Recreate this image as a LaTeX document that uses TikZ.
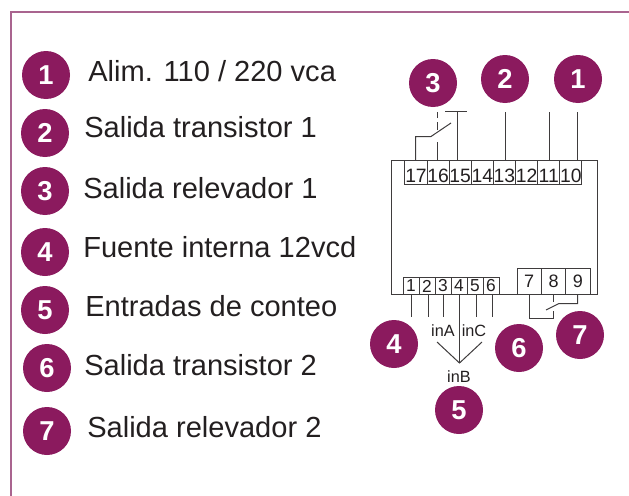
\documentclass[tikz,border=0pt]{standalone}
\usepackage{fontspec}
\setmainfont{Liberation Sans}
\definecolor{plum}{HTML}{8B1A5E}
\definecolor{frameplum}{HTML}{A9648F}
\definecolor{ink}{HTML}{231F20}
\definecolor{linegray}{HTML}{3F3C3D}
\newcommand{\lowerby}[2]{\raisebox{-#1}{#2}}
\tikzset{
  badge/.style={circle,fill=plum,draw=none,minimum size=36pt,inner sep=0pt,text=white,font=\fontsize{20.5}{20.5}\selectfont\bfseries},
  lab/.style={anchor=base west,inner sep=0pt,text=ink,font=\fontsize{21.8}{24}\selectfont},
  cell/.style={draw=linegray,line width=0.75pt,inner sep=0pt,text=ink},
  topcell/.style={cell,minimum width=16.6pt,minimum height=18pt,text height=10pt,text depth=0pt,font=\fontsize{14.5}{15}\selectfont},
  lowcell/.style={cell,minimum width=12pt,minimum height=12.75pt,font=\fontsize{13}{14}\selectfont},
  bigcell/.style={cell,minimum width=18.25pt,minimum height=19.5pt,font=\fontsize{13.5}{14}\selectfont},
  wire/.style={draw=linegray,line width=0.75pt},
  small/.style={inner sep=0pt,text=ink,font=\fontsize{12.2}{13}\selectfont}
}
\begin{document}
\begin{tikzpicture}[x=0.75pt,y=-0.75pt]
\useasboundingbox (0,0) rectangle (629,496);
% frame
\draw[frameplum,line width=0.9pt] (629,12) -- (11,12) -- (11,496);
% legend
\node[badge] (l1) at (46,75) {1};
\node[badge] (l2) at (45,133) {2};
\node[badge] (l3) at (45,191) {3};
\node[badge] (l4) at (45,252) {4};
\node[badge] (l5) at (45,310) {5};
\node[badge] (l6) at (47,368) {6};
\node[badge] (l7) at (47,431) {7};
\node[lab] (t1) at (88,81) {Alim. 110 / 220 vca};
\node[lab] (t2) at (84,137) {Salida transistor 1};
\node[lab] (t3) at (83,198) {Salida relevador 1};
\node[lab] (t4) at (83,257) {Fuente interna 12vcd};
\node[lab] (t5) at (85,316) {Entradas de conteo};
\node[lab] (t6) at (84,375) {Salida transistor 2};
\node[lab] (t7) at (87,437) {Salida relevador 2};
% device body
\coordinate (bodyTL) at (391.5,160.5);
\coordinate (bodyTR) at (597.5,160.5);
\coordinate (bodyBL) at (391.5,294.5);
\coordinate (bodyBR) at (597.5,294.5);
\draw[wire] (bodyTL) -- (bodyTR) -- (bodyBR) -- (bodyBL) -- cycle;
% top terminals
\foreach \n [count=\i from 0] in {17,16,15,14,13,12,11,10}{
  \node[topcell] (c\n) at ({416+22.12*\i},172.5) {\lowerby{2.2pt}{\n}};
}
% low terminals
\foreach \n [count=\i from 0] in {1,2,3,4,5,6}{
  \node[lowcell] (d\n) at ({411+16*\i},286) {\lowerby{1pt}{\n}};
}
% big terminals
\foreach \n/\lbl [count=\i from 0] in {a/7,b/8,c/9}{
  \node[bigcell] (e\n) at ({529.2+24.35*\i},281.5) {\lbl};
}
% top badges
\node[badge] (b3) at (433,83) {3};
\node[badge] (b2) at (505,79) {2};
\node[badge] (b1) at (578,79) {1};
% top wires
\coordinate (w13) at (505.5,112);
\coordinate (w11) at (549.5,112);
\coordinate (w10) at (577.5,112);
\draw[wire] (c13.north -| w13) -- (w13);
\draw[wire] (c11.north -| w11) -- (w11);
\draw[wire] (c10.north -| w10) -- (w10);
% relay 1
\coordinate (r1a) at (415.5,136.5);
\coordinate (r1b) at (431,136.5);
\coordinate (r1c) at (451,123);
\coordinate (r1d) at (437.5,142);
\coordinate (r1e) at (437.5,130);
\coordinate (r1f) at (437.5,122);
\coordinate (r1k) at (437.5,118);
\coordinate (r1g) at (437.5,112);
\coordinate (r1h) at (457.5,111.5);
\coordinate (r1i) at (445,111.5);
\coordinate (r1j) at (467,111.5);
\draw[wire] (c17.north -| r1a) -- (r1a) -- (r1b) -- (r1c);
\draw[wire] (c16.north -| r1d) -- (r1d);
\draw[wire] (r1e) -- (r1f);
\draw[wire] (r1k) -- (r1g);
\draw[wire] (c15.north -| r1h) -- (r1h);
\draw[wire] (r1i) -- (r1j);
% low wires
\coordinate (w1) at (411.5,317);
\coordinate (w2) at (428.5,317);
\coordinate (w3) at (443.5,317);
\coordinate (w5) at (476.5,317);
\coordinate (w6) at (492.5,317);
\coordinate (vtip) at (459.5,363);
\coordinate (vl) at (437,342);
\coordinate (vr) at (482,342);
\draw[wire] (w1 |- d1.south) -- (w1);
\draw[wire] (w2 |- d2.south) -- (w2);
\draw[wire] (w3 |- d3.south) -- (w3);
\draw[wire] (w5 |- d5.south) -- (w5);
\draw[wire] (w6 |- d6.south) -- (w6);
\draw[wire] (vtip |- d4.south) -- (vtip);
\draw[wire] (vl) -- (vtip) -- (vr);
\node[small] (ina) at (443,331) {inA};
\node[small] (inc) at (474,331) {inC};
\node[small] (inb) at (459,377) {inB};
% relay 2
\coordinate (r2a) at (529.5,318.5);
\coordinate (r2b) at (553.5,318.5);
\coordinate (r2c) at (553.5,311);
\coordinate (r2d) at (553.5,302);
\coordinate (r2e) at (546,310);
\coordinate (r2f) at (559,303.5);
\coordinate (r2g) at (577.5,303.5);
\draw[wire] (ea.south -| r2a) -- (r2a) -- (r2b) -- (r2c);
\draw[wire] (eb.south -| r2d) -- (r2d);
\draw[wire] (r2e) -- (r2f) -- (r2g) -- (ec.south -| r2g);
% lower badges
\node[badge] (b4) at (394,344) {4};
\node[badge] (b6) at (519,348) {6};
\node[badge] (b7) at (580,335) {7};
\node[badge] (b5) at (459,410) {5};
\end{tikzpicture}
\end{document}
